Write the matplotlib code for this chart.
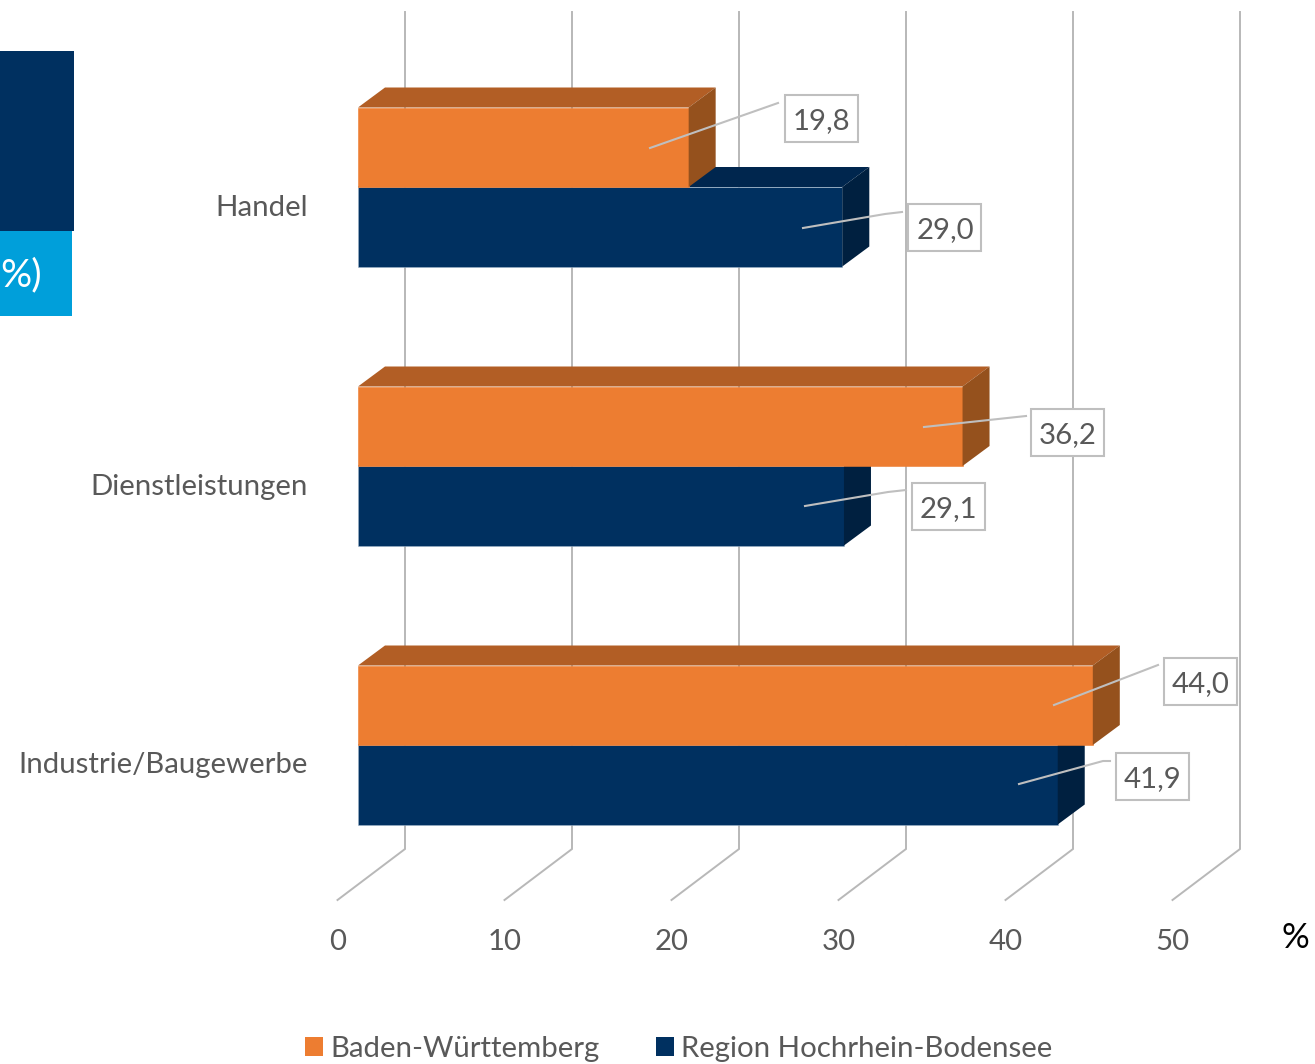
import matplotlib
matplotlib.use("Agg")
import matplotlib.pyplot as plt
from matplotlib.patches import Polygon, Rectangle

plt.rcParams['font.family'] = ['Lato', 'DejaVu Sans']

categories = ["Handel", "Dienstleistungen", "Industrie/Baugewerbe"]
baden = [19.8, 36.2, 44.0]
region = [29.0, 29.1, 41.9]
x_ticks = [0, 10, 20, 30, 40, 50]
series_names = ["Baden-Württemberg", "Region Hochrhein-Bodensee"]

W, H = 1315, 1064
TXT = "#595959"
GRID = "#B8B8B8"
ORANGE = ("#ED7D31", "#B25E25", "#95511D")
NAVY = ("#003060", "#00264E", "#002040")
FS = 21.2

# pixel geometry
X0, X50, YTOP, YBOT = 337.5, 1172.5, 12, 900
PPU = (X50 - X0) / 50
CY0, STEP = 187.5, 279.0
def yp(p): return (p - CY0) / STEP
def xp(p): return (p - X0) / PPU

fig = plt.figure(figsize=(W / 100, H / 100), dpi=100)
ax = fig.add_axes([X0 / W, 1 - YBOT / H, (X50 - X0) / W, (YBOT - YTOP) / H])
ax.set_xlim(0, 50)
ax.set_ylim(yp(YBOT), yp(YTOP))
for s in ax.spines.values():
    s.set_visible(False)

ax.set_xticks(x_ticks)
ax.set_yticks([i + 17.5 / STEP for i in range(len(categories))])
ax.set_yticklabels(categories, va='center_baseline')
ax.tick_params(axis='x', length=0, pad=21, labelsize=FS, labelcolor=TXT)
ax.tick_params(axis='y', length=0, pad=21.5, labelsize=FS, labelcolor=TXT)

# walls: grid lines with floor segment
DX, DY = 27, 20          # bar depth in px
GX, GY = 67.5, 51        # floor depth in px
for t in x_ticks:
    ax.plot([t, t + GX / PPU, t + GX / PPU], [yp(YBOT), yp(YBOT - GY), yp(YTOP)],
            color=GRID, lw=1.4, zorder=1, clip_on=False, solid_joinstyle='miter')

BAR_LEFT = 20.5 / PPU
BAR_H = 79.5 / STEP

def bar3d(y, v, cols, z):
    ax.barh(y, v, left=BAR_LEFT, height=BAR_H, color=cols[0], zorder=z,
            edgecolor="#9DB2C8" if cols is NAVY else cols[0], linewidth=0.4)
    x1 = BAR_LEFT + v
    x2, dy = x1 + DX / PPU, DY / STEP
    xa = BAR_LEFT
    top, bot = y - BAR_H / 2, y + BAR_H / 2
    ax.add_patch(Polygon([(xa, top), (xa + DX / PPU, top - dy), (x2, top - dy), (x1, top)],
                         closed=True, facecolor=cols[1], edgecolor='none', zorder=z, clip_on=False))
    ax.add_patch(Polygon([(x1, top), (x2, top - dy), (x2, bot - dy), (x1, bot)],
                         closed=True, facecolor=cols[2], edgecolor='none', zorder=z, clip_on=False))

OFF = BAR_H / 2
for i in range(len(categories)):
    bar3d(i + OFF - 0.5 / STEP, region[i], NAVY, 2 + i * 2)
    bar3d(i - OFF - 0.5 / STEP, baden[i], ORANGE, 3 + i * 2)

# data labels: box centre, leader polyline (pixel layout)
label_layout = [
    (baden[0], (821.5, 118.5), [(650, 148), (778, 103)]),
    (region[0], (945, 227.5), [(803, 228), (885, 214), (902, 212)]),
    (baden[1], (1068, 432.5), [(924, 427), (1026, 416)]),
    (region[1], (948.5, 506.5), [(805, 506), (888, 492), (906, 490)]),
    (baden[2], (1200.5, 681.5), [(1054, 705), (1158, 665)]),
    (region[2], (1152.5, 776.5), [(1019, 784), (1103, 761), (1110, 761)]),
]
for v, (cx, cy), pts in label_layout:
    ax.plot([xp(a) for a, b in pts], [yp(b) for a, b in pts], color="#BFBFBF", lw=1.5,
            zorder=20, clip_on=False)
    ax.add_patch(Rectangle((xp(cx - 36.5), yp(cy - 23.5)), 73 / PPU, 47 / STEP, facecolor='white',
                           edgecolor="#BFBFBF", lw=1.5, zorder=21, clip_on=False))
    ax.text(xp(cx), yp(cy), f"{v:.1f}".replace(".", ","), ha='center', va='center_baseline',
            fontsize=FS, color=TXT, zorder=22, clip_on=False)

# % axis unit
fig.text(1295 / W, 1 - 938 / H, "%", ha='center', va='center', fontsize=25, color='black')

# cut-off header blocks on the left edge
fig.patches.append(Rectangle((0, 1 - 231 / H), 74 / W, 180 / H, transform=fig.transFigure,
                             facecolor="#003060", edgecolor='none'))
fig.patches.append(Rectangle((0, 1 - 316 / H), 72 / W, 85 / H, transform=fig.transFigure,
                             facecolor="#009FDA", edgecolor='none'))
fig.text(42 / W, 1 - 275 / H, "%)", ha='right', va='center', fontsize=28, color='white')

# legend
handles = [Rectangle((0, 0), 1, 1, facecolor=ORANGE[0]), Rectangle((0, 0), 1, 1, facecolor=NAVY[0])]
fig.legend(handles, series_names, loc='center', bbox_to_anchor=(679 / W, 1 - 1048.5 / H), ncols=2,
           frameon=False, fontsize=FS, labelcolor=TXT, handlelength=0.61, handleheight=0.61,
           handletextpad=0.24, columnspacing=1.93, borderpad=0, borderaxespad=0)

fig.savefig("out.png", dpi=100, facecolor='white')
